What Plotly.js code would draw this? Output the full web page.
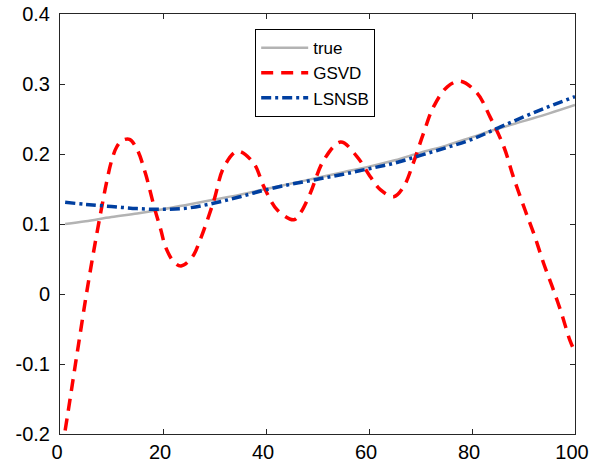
<!DOCTYPE html>
<html>
<head>
<meta charset="utf-8">
<script src="https://cdn.plot.ly/plotly-3.0.1.min.js"></script>
<style>html,body{margin:0;padding:0;background:#fff;}#chart{width:589px;height:467px;}</style>
</head>
<body>
<div id="chart"></div>
<script>
// true solution
const trueX = [1,5,10,15,20,25,30,35,40,45,50,55,60,65,70,75,80,85,90,95,100];
const trueY = [0.100,0.104,0.110,0.115,0.121,0.128,0.135,0.142,0.150,0.158,0.166,0.174,0.182,0.191,0.202,0.212,0.224,0.236,0.247,0.258,0.270];

// LSNSB solution
const lsnsbX = [1,5,10,15,20,25,30,35,40,45,50,55,60,65,70,75,80,85,90,95,100];
const lsnsbY = [0.131,0.128,0.125,0.122,0.121,0.123,0.130,0.139,0.149,0.157,0.164,0.171,0.179,0.187,0.198,0.209,0.221,0.237,0.253,0.268,0.282];

// GSVD solution
const gsvdX = [1,2,3,4,5,6,7,8,9,10,11,12,13.5,15,16.6,18.3,19.6,20.5,22.1,23.5,25.7,27.3,29.9,31.8,34.5,37.6,39.6,42.2,45.4,46.7,48.6,51.2,54.5,57.7,60.3,62.2,64.8,66.7,68.6,70.6,72.5,75.2,77.7,81,83.5,86.2,88,90.3,92.2,93.9,95.8,97.4,99,100];
const gsvdY = [-0.195,-0.148,-0.100,-0.053,-0.006,0.038,0.080,0.120,0.158,0.190,0.210,0.219,0.221,0.206,0.172,0.124,0.091,0.067,0.046,0.040,0.053,0.079,0.134,0.181,0.204,0.187,0.153,0.120,0.106,0.116,0.144,0.191,0.217,0.196,0.167,0.149,0.139,0.153,0.187,0.230,0.267,0.296,0.304,0.287,0.253,0.210,0.168,0.120,0.082,0.044,0.006,-0.028,-0.066,-0.083];

const xTicks = [0,20,40,60,80,100];
const yTicks = [-0.2,-0.1,0,0.1,0.2,0.3,0.4];
const yTickText = ['-0.2','-0.1','0','0.1','0.2','0.3','0.4'];

const traces = [
  {x: trueX, y: trueY, name: 'true', mode: 'lines',
   line: {color: '#b3b3b3', width: 2.5, shape: 'spline'}},
  {x: gsvdX, y: gsvdY, name: 'GSVD', mode: 'lines',
   line: {color: '#ff0000', width: 3.5, dash: '12px,8px', shape: 'spline'}},
  {x: lsnsbX, y: lsnsbY, name: 'LSNSB', mode: 'lines',
   line: {color: '#003fa0', width: 3.5, dash: '10px,4px,3px,4px', shape: 'spline'}}
];

const axisCommon = {
  showline: true, linecolor: '#262626', linewidth: 1,
  mirror: 'ticks', ticks: 'inside', ticklen: 5, tickcolor: '#262626',
  showgrid: false, zeroline: false, ticklabeloverflow: 'allow',
  tickfont: {family: 'Liberation Sans, Arial, sans-serif', size: 20, color: '#000'}
};

const layout = {
  width: 589, height: 467,
  margin: {l: 59.5, r: 14, t: 14, b: 33},
  paper_bgcolor: '#fff', plot_bgcolor: '#fff',
  showlegend: true,
  legend: {
    x: 0.379, y: 0.964, xanchor: 'left', yanchor: 'top',
    bgcolor: '#fff', bordercolor: '#000', borderwidth: 1,
    font: {family: 'Liberation Sans, Arial, sans-serif', size: 17, color: '#000'},
    itemwidth: 47, tracegroupgap: 0
  },
  xaxis: Object.assign({}, axisCommon, {range: [0, 100], tickvals: xTicks, ticklabelshift: -3}),
  yaxis: Object.assign({}, axisCommon, {range: [-0.2, 0.4], tickvals: yTicks, ticktext: yTickText, ticklabelstandoff: 5})
};

Plotly.newPlot('chart', traces, layout, {staticPlot: true, displayModeBar: false});
</script>
</body>
</html>
